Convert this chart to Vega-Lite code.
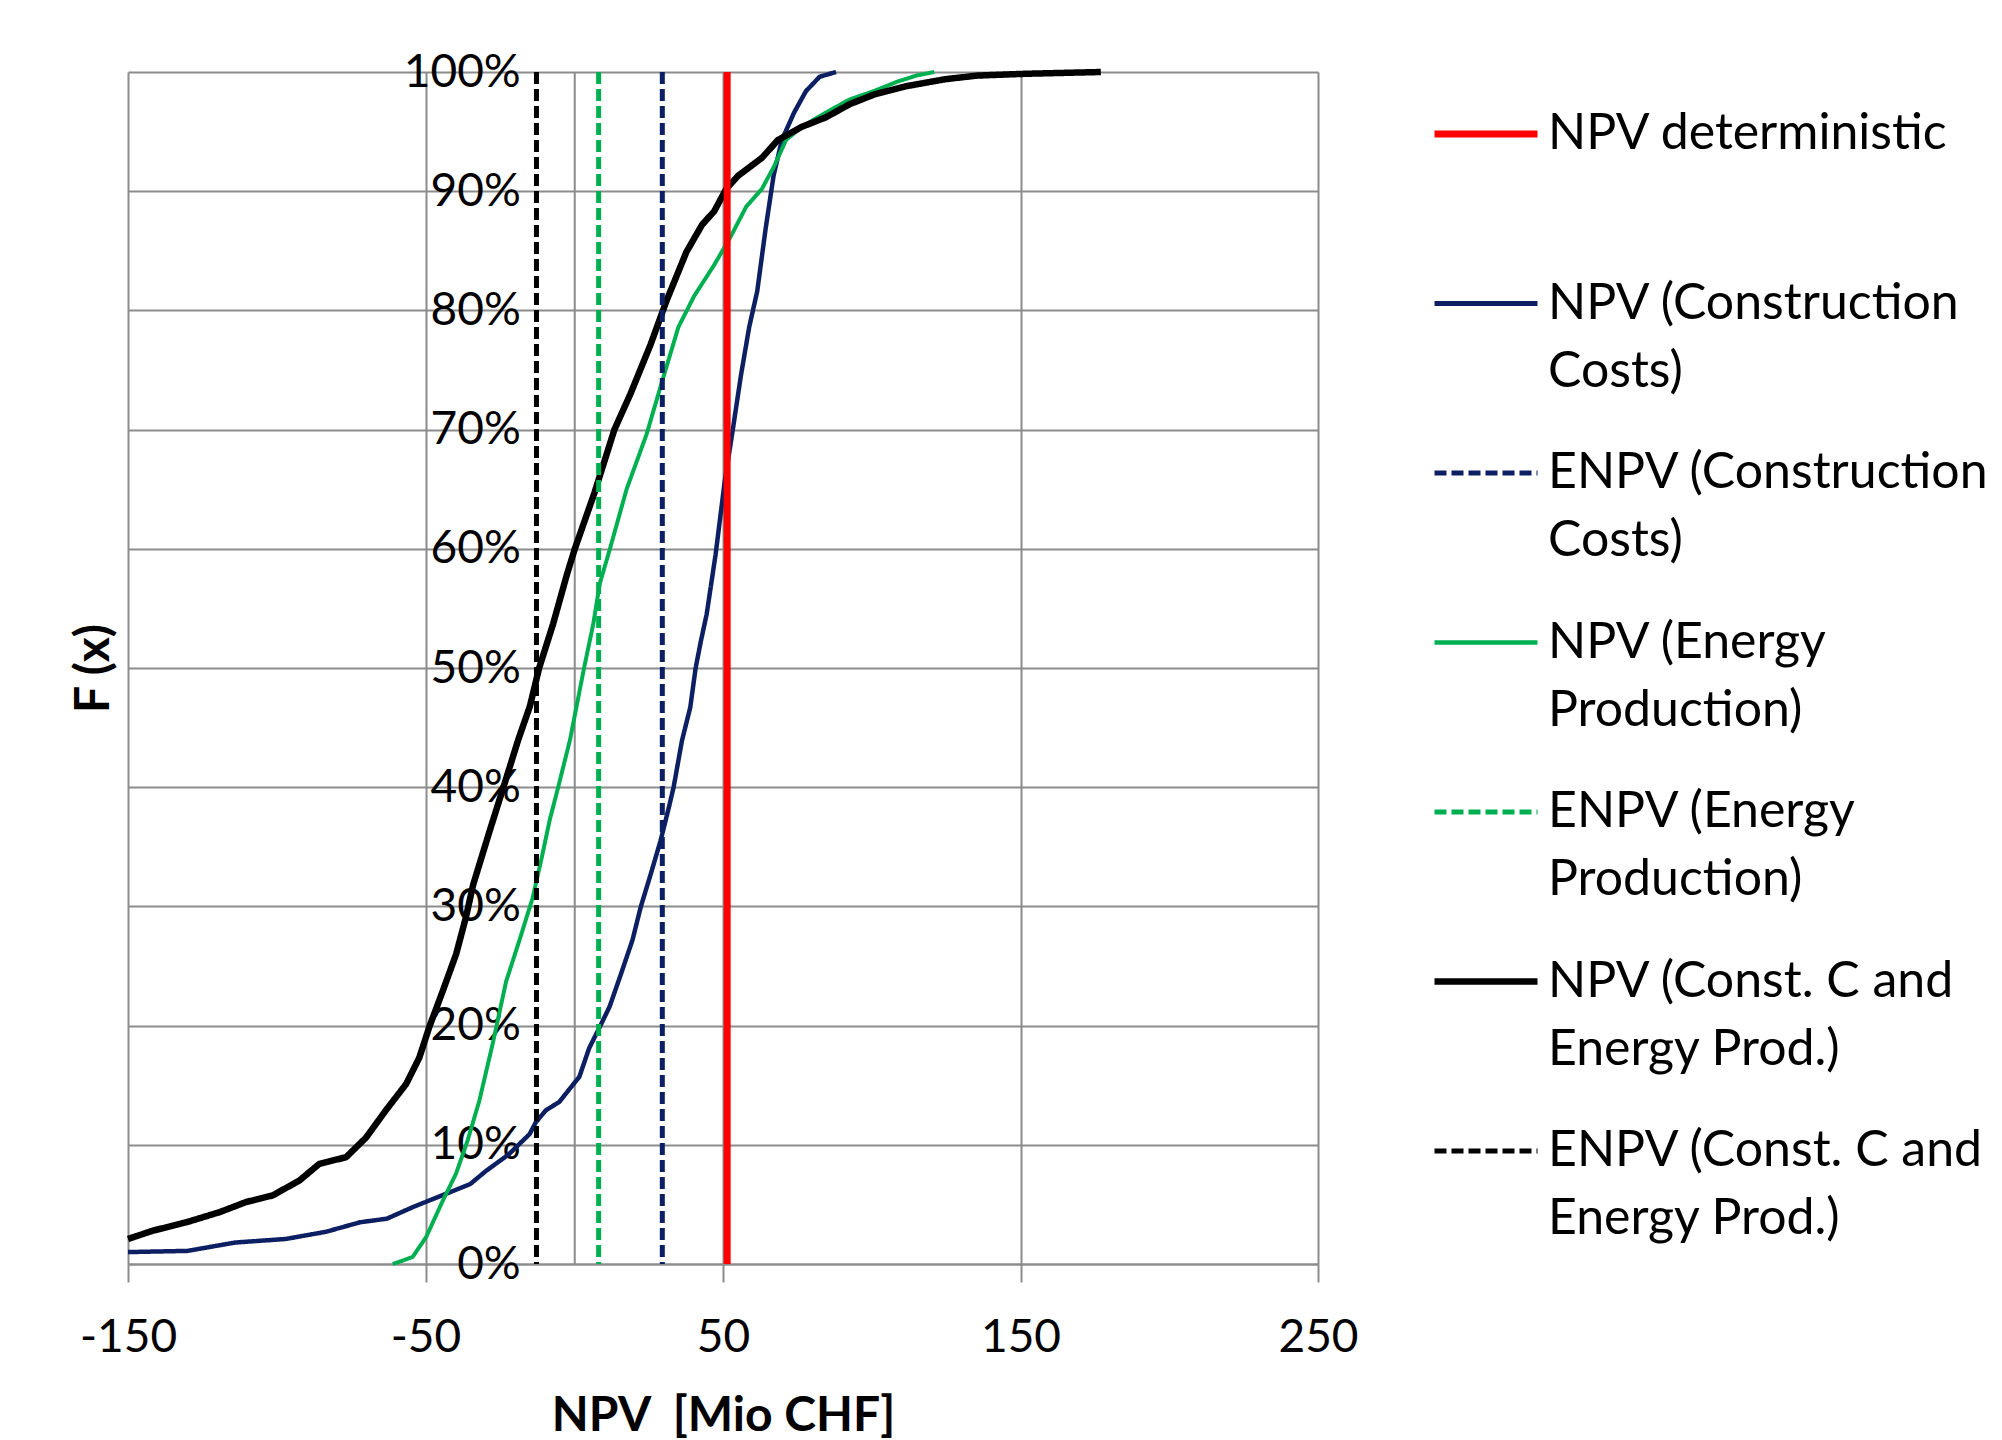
{
  "$schema": "https://vega.github.io/schema/vega-lite/v6.json",
  "width": 1190,
  "height": 1192,
  "autosize": {"type": "none"},
  "padding": {"left": 128, "top": 72, "right": 684, "bottom": 176},
  "background": "white",
  "config": {
    "font": "Lato",
    "view": {"stroke": null},
    "axis": {
      "gridColor": "#8c8c8c",
      "gridWidth": 2,
      "gridOpacity": 1,
      "domainColor": "#8c8c8c",
      "domainWidth": 2,
      "tickColor": "#8c8c8c",
      "tickWidth": 2,
      "labelFont": "Lato",
      "labelFontSize": 46,
      "labelColor": "#000000",
      "titleFont": "Lato",
      "titleColor": "#000000",
      "titleFontWeight": "bold"
    }
  },
  "datasets": {
    "curves": [
      {"series": "NPV (Construction Costs)", "npv": -150, "F": 0.010},
      {"series": "NPV (Construction Costs)", "npv": -130, "F": 0.011},
      {"series": "NPV (Construction Costs)", "npv": -114, "F": 0.018},
      {"series": "NPV (Construction Costs)", "npv": -97, "F": 0.021},
      {"series": "NPV (Construction Costs)", "npv": -83.5, "F": 0.027},
      {"series": "NPV (Construction Costs)", "npv": -72, "F": 0.035},
      {"series": "NPV (Construction Costs)", "npv": -63, "F": 0.038},
      {"series": "NPV (Construction Costs)", "npv": -54, "F": 0.048},
      {"series": "NPV (Construction Costs)", "npv": -45, "F": 0.057},
      {"series": "NPV (Construction Costs)", "npv": -35, "F": 0.067},
      {"series": "NPV (Construction Costs)", "npv": -29.7, "F": 0.078},
      {"series": "NPV (Construction Costs)", "npv": -22, "F": 0.092},
      {"series": "NPV (Construction Costs)", "npv": -15, "F": 0.109},
      {"series": "NPV (Construction Costs)", "npv": -12.9, "F": 0.119},
      {"series": "NPV (Construction Costs)", "npv": -9.5, "F": 0.129},
      {"series": "NPV (Construction Costs)", "npv": -5, "F": 0.136},
      {"series": "NPV (Construction Costs)", "npv": -2.8, "F": 0.143},
      {"series": "NPV (Construction Costs)", "npv": 1.7, "F": 0.157},
      {"series": "NPV (Construction Costs)", "npv": 5, "F": 0.181},
      {"series": "NPV (Construction Costs)", "npv": 8.8, "F": 0.200},
      {"series": "NPV (Construction Costs)", "npv": 11.9, "F": 0.216},
      {"series": "NPV (Construction Costs)", "npv": 15.8, "F": 0.244},
      {"series": "NPV (Construction Costs)", "npv": 19.6, "F": 0.272},
      {"series": "NPV (Construction Costs)", "npv": 22.4, "F": 0.300},
      {"series": "NPV (Construction Costs)", "npv": 25.7, "F": 0.327},
      {"series": "NPV (Construction Costs)", "npv": 29, "F": 0.355},
      {"series": "NPV (Construction Costs)", "npv": 31.8, "F": 0.383},
      {"series": "NPV (Construction Costs)", "npv": 33.4, "F": 0.400},
      {"series": "NPV (Construction Costs)", "npv": 36.2, "F": 0.439},
      {"series": "NPV (Construction Costs)", "npv": 39, "F": 0.467},
      {"series": "NPV (Construction Costs)", "npv": 40.8, "F": 0.500},
      {"series": "NPV (Construction Costs)", "npv": 42.6, "F": 0.523},
      {"series": "NPV (Construction Costs)", "npv": 44.5, "F": 0.545},
      {"series": "NPV (Construction Costs)", "npv": 47.5, "F": 0.595},
      {"series": "NPV (Construction Costs)", "npv": 50.5, "F": 0.655},
      {"series": "NPV (Construction Costs)", "npv": 53.3, "F": 0.700},
      {"series": "NPV (Construction Costs)", "npv": 56, "F": 0.745},
      {"series": "NPV (Construction Costs)", "npv": 58.8, "F": 0.786},
      {"series": "NPV (Construction Costs)", "npv": 61.5, "F": 0.816},
      {"series": "NPV (Construction Costs)", "npv": 64.3, "F": 0.868},
      {"series": "NPV (Construction Costs)", "npv": 67, "F": 0.913},
      {"series": "NPV (Construction Costs)", "npv": 69.8, "F": 0.943},
      {"series": "NPV (Construction Costs)", "npv": 73.9, "F": 0.966},
      {"series": "NPV (Construction Costs)", "npv": 77.9, "F": 0.984},
      {"series": "NPV (Construction Costs)", "npv": 82.5, "F": 0.996},
      {"series": "NPV (Construction Costs)", "npv": 88, "F": 1.0},

      {"series": "NPV (Energy Production)", "npv": -61, "F": 0.0},
      {"series": "NPV (Energy Production)", "npv": -57.5, "F": 0.003},
      {"series": "NPV (Energy Production)", "npv": -54.3, "F": 0.006},
      {"series": "NPV (Energy Production)", "npv": -49.8, "F": 0.0225},
      {"series": "NPV (Energy Production)", "npv": -44.2, "F": 0.053},
      {"series": "NPV (Energy Production)", "npv": -39.7, "F": 0.076},
      {"series": "NPV (Energy Production)", "npv": -35.8, "F": 0.104},
      {"series": "NPV (Energy Production)", "npv": -31.9, "F": 0.137},
      {"series": "NPV (Energy Production)", "npv": -27.4, "F": 0.185},
      {"series": "NPV (Energy Production)", "npv": -22.9, "F": 0.237},
      {"series": "NPV (Energy Production)", "npv": -18.5, "F": 0.271},
      {"series": "NPV (Energy Production)", "npv": -14, "F": 0.307},
      {"series": "NPV (Energy Production)", "npv": -11, "F": 0.340},
      {"series": "NPV (Energy Production)", "npv": -8.2, "F": 0.373},
      {"series": "NPV (Energy Production)", "npv": -5.4, "F": 0.400},
      {"series": "NPV (Energy Production)", "npv": -1.4, "F": 0.440},
      {"series": "NPV (Energy Production)", "npv": 3.3, "F": 0.500},
      {"series": "NPV (Energy Production)", "npv": 6.4, "F": 0.537},
      {"series": "NPV (Energy Production)", "npv": 8.6, "F": 0.571},
      {"series": "NPV (Energy Production)", "npv": 12, "F": 0.600},
      {"series": "NPV (Energy Production)", "npv": 17.6, "F": 0.650},
      {"series": "NPV (Energy Production)", "npv": 24.3, "F": 0.696},
      {"series": "NPV (Energy Production)", "npv": 29.6, "F": 0.741},
      {"series": "NPV (Energy Production)", "npv": 35, "F": 0.786},
      {"series": "NPV (Energy Production)", "npv": 40.3, "F": 0.812},
      {"series": "NPV (Energy Production)", "npv": 47, "F": 0.838},
      {"series": "NPV (Energy Production)", "npv": 52.4, "F": 0.861},
      {"series": "NPV (Energy Production)", "npv": 57.8, "F": 0.887},
      {"series": "NPV (Energy Production)", "npv": 63.1, "F": 0.902},
      {"series": "NPV (Energy Production)", "npv": 67.2, "F": 0.921},
      {"series": "NPV (Energy Production)", "npv": 71.2, "F": 0.943},
      {"series": "NPV (Energy Production)", "npv": 76.5, "F": 0.954},
      {"series": "NPV (Energy Production)", "npv": 84.6, "F": 0.966},
      {"series": "NPV (Energy Production)", "npv": 92.6, "F": 0.977},
      {"series": "NPV (Energy Production)", "npv": 100.7, "F": 0.984},
      {"series": "NPV (Energy Production)", "npv": 108.7, "F": 0.992},
      {"series": "NPV (Energy Production)", "npv": 115, "F": 0.997},
      {"series": "NPV (Energy Production)", "npv": 121, "F": 1.0},

      {"series": "NPV (Const. C and Energy Prod.)", "npv": -150, "F": 0.021},
      {"series": "NPV (Const. C and Energy Prod.)", "npv": -141.6, "F": 0.028},
      {"series": "NPV (Const. C and Energy Prod.)", "npv": -130.4, "F": 0.035},
      {"series": "NPV (Const. C and Energy Prod.)", "npv": -119.2, "F": 0.0435},
      {"series": "NPV (Const. C and Energy Prod.)", "npv": -110.3, "F": 0.052},
      {"series": "NPV (Const. C and Energy Prod.)", "npv": -101.4, "F": 0.0575},
      {"series": "NPV (Const. C and Energy Prod.)", "npv": -92.4, "F": 0.070},
      {"series": "NPV (Const. C and Energy Prod.)", "npv": -85.7, "F": 0.084},
      {"series": "NPV (Const. C and Energy Prod.)", "npv": -76.7, "F": 0.0896},
      {"series": "NPV (Const. C and Energy Prod.)", "npv": -70, "F": 0.106},
      {"series": "NPV (Const. C and Energy Prod.)", "npv": -63.3, "F": 0.129},
      {"series": "NPV (Const. C and Energy Prod.)", "npv": -56.5, "F": 0.151},
      {"series": "NPV (Const. C and Energy Prod.)", "npv": -52.1, "F": 0.173},
      {"series": "NPV (Const. C and Energy Prod.)", "npv": -48.7, "F": 0.199},
      {"series": "NPV (Const. C and Energy Prod.)", "npv": -44.2, "F": 0.229},
      {"series": "NPV (Const. C and Energy Prod.)", "npv": -39.7, "F": 0.260},
      {"series": "NPV (Const. C and Energy Prod.)", "npv": -36.4, "F": 0.291},
      {"series": "NPV (Const. C and Energy Prod.)", "npv": -34, "F": 0.318},
      {"series": "NPV (Const. C and Energy Prod.)", "npv": -28.6, "F": 0.362},
      {"series": "NPV (Const. C and Energy Prod.)", "npv": -23.8, "F": 0.400},
      {"series": "NPV (Const. C and Energy Prod.)", "npv": -18.8, "F": 0.440},
      {"series": "NPV (Const. C and Energy Prod.)", "npv": -14.9, "F": 0.468},
      {"series": "NPV (Const. C and Energy Prod.)", "npv": -11.8, "F": 0.500},
      {"series": "NPV (Const. C and Energy Prod.)", "npv": -7.1, "F": 0.537},
      {"series": "NPV (Const. C and Energy Prod.)", "npv": -2.4, "F": 0.579},
      {"series": "NPV (Const. C and Energy Prod.)", "npv": 0.2, "F": 0.600},
      {"series": "NPV (Const. C and Energy Prod.)", "npv": 6.8, "F": 0.647},
      {"series": "NPV (Const. C and Energy Prod.)", "npv": 13.5, "F": 0.700},
      {"series": "NPV (Const. C and Energy Prod.)", "npv": 18.9, "F": 0.730},
      {"series": "NPV (Const. C and Energy Prod.)", "npv": 25.6, "F": 0.771},
      {"series": "NPV (Const. C and Energy Prod.)", "npv": 31, "F": 0.808},
      {"series": "NPV (Const. C and Energy Prod.)", "npv": 37.7, "F": 0.849},
      {"series": "NPV (Const. C and Energy Prod.)", "npv": 43, "F": 0.872},
      {"series": "NPV (Const. C and Energy Prod.)", "npv": 47, "F": 0.883},
      {"series": "NPV (Const. C and Energy Prod.)", "npv": 51.1, "F": 0.902},
      {"series": "NPV (Const. C and Energy Prod.)", "npv": 55.1, "F": 0.913},
      {"series": "NPV (Const. C and Energy Prod.)", "npv": 63.1, "F": 0.928},
      {"series": "NPV (Const. C and Energy Prod.)", "npv": 68.5, "F": 0.943},
      {"series": "NPV (Const. C and Energy Prod.)", "npv": 76.5, "F": 0.954},
      {"series": "NPV (Const. C and Energy Prod.)", "npv": 84.6, "F": 0.962},
      {"series": "NPV (Const. C and Energy Prod.)", "npv": 92.6, "F": 0.973},
      {"series": "NPV (Const. C and Energy Prod.)", "npv": 100.7, "F": 0.981},
      {"series": "NPV (Const. C and Energy Prod.)", "npv": 111.4, "F": 0.988},
      {"series": "NPV (Const. C and Energy Prod.)", "npv": 124.8, "F": 0.994},
      {"series": "NPV (Const. C and Energy Prod.)", "npv": 135.5, "F": 0.997},
      {"series": "NPV (Const. C and Energy Prod.)", "npv": 151.6, "F": 0.9985},
      {"series": "NPV (Const. C and Energy Prod.)", "npv": 177, "F": 1.0}
    ],
    "rules": [
      {"series": "NPV deterministic", "npv": 51.4},
      {"series": "ENPV (Construction Costs)", "npv": 29.6},
      {"series": "ENPV (Energy Production)", "npv": 8.2},
      {"series": "ENPV (Const. C and Energy Prod.)", "npv": -12.7}
    ]
  },
  "encoding": {
    "x": {
      "field": "npv",
      "type": "quantitative",
      "scale": {"domain": [-150, 250], "nice": false, "zero": false},
      "axis": {
        "values": [-150, -50, 50, 150, 250],
        "labelExpr": "'' + datum.value",
        "labelFlush": false,
        "tickSize": 18,
        "labelPadding": 33,
        "title": "NPV \u00a0[Mio CHF]",
        "titleFontSize": 48,
        "titleBaseline": "top",
        "titleY": 128
      }
    },
    "color": {
      "field": "series",
      "type": "nominal",
      "scale": {
        "domain": ["NPV deterministic", "NPV (Construction Costs)", "ENPV (Construction Costs)", "NPV (Energy Production)", "ENPV (Energy Production)", "NPV (Const. C and Energy Prod.)", "ENPV (Const. C and Energy Prod.)"],
        "range": ["#ff0000", "#0c1f63", "#0c1f63", "#00b050", "#00b050", "#000000", "#000000"]
      },
      "legend": {
        "orient": "none",
        "legendX": 1333,
        "legendY": 37,
        "title": null,
        "padding": 0,
        "symbolType": "stroke",
        "symbolSize": 10609,
        "symbolOffset": 0,
        "labelFont": "Lato",
        "labelFontSize": 50,
        "labelColor": "#000000",
        "labelOffset": 37,
        "labelLimit": 700,
        "rowPadding": 51.5,
        "labelExpr": "datum.label == 'NPV deterministic' ? ['NPV deterministic', ' '] : split(replace(replace(replace(datum.label, ' Costs)', '|Costs)'), ' Production)', '|Production)'), ' Energy Prod.)', '|Energy Prod.)'), '|')",
        "encode": {
          "labels": {"update": {"lineHeight": {"value": 68}}},
          "symbols": {"update": {
            "strokeWidth": {"signal": "datum.value == 'NPV deterministic' ? 7 : datum.value == 'NPV (Const. C and Energy Prod.)' ? 6.5 : datum.value == 'NPV (Energy Production)' ? 4.5 : 5"},
            "strokeDash": {"signal": "indexof(datum.value, 'ENPV') == 0 ? [16, 6] : [1, 0]"}
          }}
        }
      }
    },
    "strokeDash": {
      "field": "series",
      "type": "nominal",
      "scale": {
        "domain": ["NPV deterministic", "NPV (Construction Costs)", "ENPV (Construction Costs)", "NPV (Energy Production)", "ENPV (Energy Production)", "NPV (Const. C and Energy Prod.)", "ENPV (Const. C and Energy Prod.)"],
        "range": [[1, 0], [1, 0], [12, 5], [1, 0], [12, 5], [1, 0], [12, 5]]
      }
    }
  },
  "layer": [
    {
      "data": {"name": "curves"},
      "encoding": {
        "y": {
          "field": "F",
          "type": "quantitative",
          "scale": {"domain": [0, 1], "nice": false},
          "axis": {
            "values": [0, 0.1, 0.2, 0.3, 0.4, 0.5, 0.6, 0.7, 0.8, 0.9, 1.0],
            "format": ".0%",
            "offset": -446.25,
            "ticks": false,
            "labelPadding": 54,
            "title": "F (x)",
            "titleFontSize": 48,
            "titleAngle": 270,
            "titleBaseline": "middle",
            "titleAlign": "center",
            "titleX": -480,
            "titleY": 596
          }
        }
      },
      "layer": [
        {
          "transform": [{"filter": "datum.series == 'NPV (Construction Costs)'"}],
          "mark": {"type": "line", "strokeJoin": "round", "strokeWidth": 4.5}
        },
        {
          "transform": [{"filter": "datum.series == 'NPV (Energy Production)'"}],
          "mark": {"type": "line", "strokeJoin": "round", "strokeWidth": 4}
        },
        {
          "transform": [{"filter": "datum.series == 'NPV (Const. C and Energy Prod.)'"}],
          "mark": {"type": "line", "strokeJoin": "round", "strokeWidth": 6.5}
        }
      ]
    },
    {
      "data": {"name": "rules"},
      "layer": [
        {
          "transform": [{"filter": "datum.series != 'NPV deterministic'"}],
          "mark": {"type": "rule", "strokeWidth": 5},
          "encoding": {}
        },
        {
          "transform": [{"filter": "datum.series == 'NPV deterministic'"}],
          "mark": {"type": "rule", "strokeWidth": 7},
          "encoding": {}
        }
      ]
    }
  ]
}
